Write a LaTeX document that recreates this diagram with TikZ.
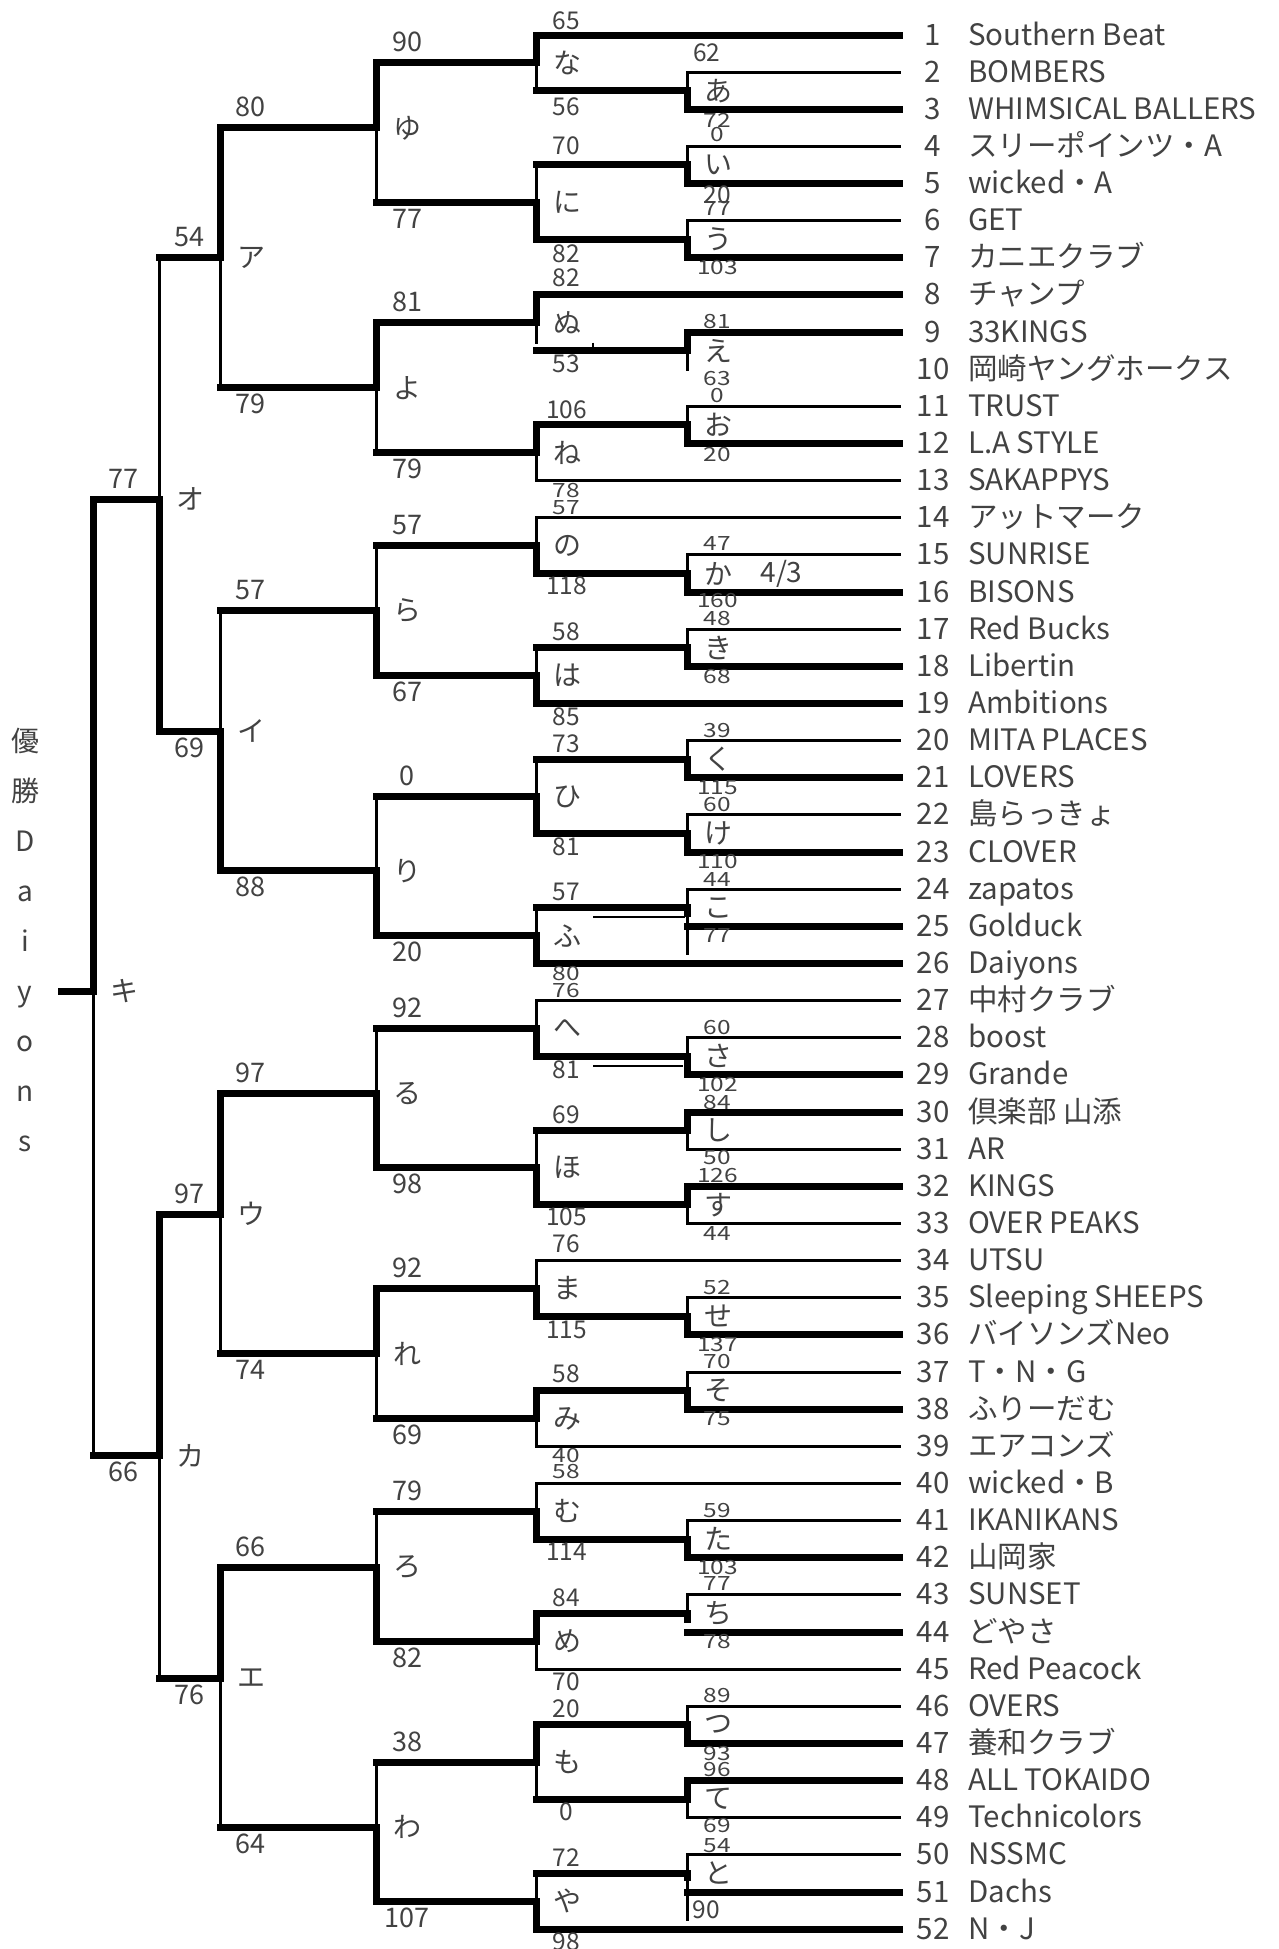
\documentclass[tikz,border=0pt]{standalone}
\usepackage{fontspec}
\setmainfont{Noto Sans CJK JP}
\definecolor{txt}{gray}{0.26}
\newcounter{nd}
\tikzset{
  tk/.style={line width=7pt, line cap=rect},
  tn/.style={line width=3pt, line cap=rect},
  hair/.style={line width=1.7pt},
  sA/.style={font=\fontsize{27}{27}\selectfont, text=txt, inner sep=0pt},
  sB/.style={font=\fontsize{24.5}{25}\selectfont, text=txt, inner sep=0pt},
  lt/.style={font=\fontsize{28}{28}\selectfont, text=txt, inner sep=0pt},
  num/.style={font=\fontsize{29.5}{29.5}\selectfont, text=txt, inner sep=0pt, anchor=base},
  nm/.style={font=\fontsize{29.5}{29.5}\selectfont, text=txt, inner sep=0pt, anchor=base west},
  vt/.style={font=\fontsize{28}{28}\selectfont, text=txt, inner sep=0pt, anchor=base},
}
\def\XA{93}\def\XB{159}\def\XC{220}\def\XD{376.5}\def\XE{536}\def\XF{687}\def\XG{899}
% match: x, top row, top src x, top style, bottom row, bottom src x, bottom style, mid row, winner
\newcommand\mt[9]{%
  \draw[#4] (#1,#2) -- (#3,#2);
  \draw[#7] (#1,#5) -- (#6,#5);
  \if t#9\relax
    \draw[tk] (#1,#2) -- (#1,#8); \draw[tn] (#1,#8) -- (#1,#5);
  \else
    \draw[tn] (#1,#2) -- (#1,#8); \draw[tk] (#1,#8) -- (#1,#5);
  \fi}
\newcommand\lab[5]{\stepcounter{nd}\node[#1,yshift=#4pt] (s\arabic{nd}) at ({#2+30.5},#3) {#5};}
\newcommand\ml[3]{\stepcounter{nd}\node[lt] (m\arabic{nd}) at ({#1+31},#2) {#3};}
\newcommand\q[1]{\scalebox{1}[0.8]{#1}}
\begin{document}
\begin{tikzpicture}[x=1pt, y=-37.14pt]
\useasboundingbox (0,0.0576) rectangle (1279,52.5347);
% ---- round 1 (c6)
\mt{\XF}{2}{\XG}{tn}{3}{\XG}{tk}{2.5}{b}
\mt{\XF}{4}{\XG}{tn}{5}{\XG}{tk}{4.5}{b}
\mt{\XF}{6}{\XG}{tn}{7}{\XG}{tk}{6.5}{b}
\mt{\XF}{11}{\XG}{tn}{12}{\XG}{tk}{11.5}{b}
\mt{\XF}{15}{\XG}{tn}{16}{\XG}{tk}{15.5}{b}
\mt{\XF}{17}{\XG}{tn}{18}{\XG}{tk}{17.5}{b}
\mt{\XF}{20}{\XG}{tn}{21}{\XG}{tk}{20.5}{b}
\mt{\XF}{22}{\XG}{tn}{23}{\XG}{tk}{22.5}{b}
\mt{\XF}{28}{\XG}{tn}{29}{\XG}{tk}{28.5}{b}
\mt{\XF}{30}{\XG}{tk}{31}{\XG}{tn}{30.5}{t}
\mt{\XF}{32}{\XG}{tk}{33}{\XG}{tn}{32.5}{t}
\mt{\XF}{35}{\XG}{tn}{36}{\XG}{tk}{35.5}{b}
\mt{\XF}{37}{\XG}{tn}{38}{\XG}{tk}{37.5}{b}
\mt{\XF}{41}{\XG}{tn}{42}{\XG}{tk}{41.5}{b}
\mt{\XF}{46}{\XG}{tn}{47}{\XG}{tk}{46.5}{b}
\mt{\XF}{48}{\XG}{tk}{49}{\XG}{tn}{48.5}{t}
% e (9,10): no line for team 10
\draw[tk] (\XF,9) -- (\XG,9);
\draw[tk] (\XF,9) -- (\XF,9.5);
\draw[tn] (\XF,9.5) -- (\XF,10);
% ko (24,25)
\draw[tn] (\XF,24) -- (\XG,24);
\draw[tk] (\XF,25) -- (\XG,25);
\draw[tn] (\XF,24) -- (\XF,25.72);
\draw[tk] (\XF,24.5) -- (\XF,24.66);
% chi (43,44)
\draw[tn] (\XF,43) -- (\XG,43);
\draw[tk] (\XF,44) -- (\XG,44);
\draw[tn] (\XF,43) -- (\XF,43.5);
\draw[tk] (\XF,43.5) -- (\XF,43.65);
% to (50,51)
\draw[tn] (\XF,50) -- (\XG,50);
\draw[tk] (\XF,51) -- (\XG,51);
\draw[tn] (\XF,50) -- (\XF,51.75);
\draw[tk] (\XF,50.5) -- (\XF,50.6);
% ---- round 2 (c5)
\mt{\XE}{1}{\XG}{tk}{2.5}{\XF}{tk}{1.75}{t}
\mt{\XE}{4.5}{\XF}{tk}{6.5}{\XF}{tk}{5.5}{b}
\draw[tk] (\XE,8) -- (\XG,8);
\draw[tk] (\XE,9.5) -- (\XF,9.5);
\draw[tk] (\XE,8) -- (\XE,8.75);
\draw[tn] (\XE,8.75) -- (\XE,9.266);
\mt{\XE}{11.5}{\XF}{tk}{13}{\XG}{tn}{12.25}{t}
\mt{\XE}{14}{\XG}{tn}{15.5}{\XF}{tk}{14.75}{b}
\mt{\XE}{17.5}{\XF}{tk}{19}{\XG}{tk}{18.25}{b}
\mt{\XE}{20.5}{\XF}{tk}{22.5}{\XF}{tk}{21.5}{b}
\mt{\XE}{24.5}{\XF}{tk}{26}{\XG}{tk}{25.25}{b}
\mt{\XE}{27}{\XG}{tn}{28.5}{\XF}{tk}{27.75}{b}
\mt{\XE}{30.5}{\XF}{tk}{32.5}{\XF}{tk}{31.5}{b}
\mt{\XE}{34}{\XG}{tn}{35.5}{\XF}{tk}{34.75}{b}
\mt{\XE}{37.5}{\XF}{tk}{39}{\XG}{tn}{38.25}{t}
\mt{\XE}{40}{\XG}{tn}{41.5}{\XF}{tk}{40.75}{b}
\mt{\XE}{43.5}{\XF}{tk}{45}{\XG}{tn}{44.25}{t}
\mt{\XE}{46.5}{\XF}{tk}{48.5}{\XF}{tk}{47.5}{t}
\mt{\XE}{50.5}{\XF}{tk}{52}{\XG}{tk}{51.25}{b}
% ---- round 3 (c4)
\mt{\XD}{1.75}{\XE}{tk}{5.5}{\XE}{tk}{3.5}{t}
\mt{\XD}{8.75}{\XE}{tk}{12.25}{\XE}{tk}{10.5}{t}
\mt{\XD}{14.75}{\XE}{tk}{18.25}{\XE}{tk}{16.5}{b}
\mt{\XD}{21.5}{\XE}{tk}{25.25}{\XE}{tk}{23.5}{b}
\mt{\XD}{27.75}{\XE}{tk}{31.5}{\XE}{tk}{29.5}{b}
\mt{\XD}{34.75}{\XE}{tk}{38.25}{\XE}{tk}{36.5}{t}
\mt{\XD}{40.75}{\XE}{tk}{44.25}{\XE}{tk}{42.25}{b}
\mt{\XD}{47.5}{\XE}{tk}{51.25}{\XE}{tk}{49.25}{b}
% ---- round 4 (c3)
\mt{\XC}{3.5}{\XD}{tk}{10.5}{\XD}{tk}{7}{t}
\mt{\XC}{16.5}{\XD}{tk}{23.5}{\XD}{tk}{19.75}{b}
\mt{\XC}{29.5}{\XD}{tk}{36.5}{\XD}{tk}{32.75}{t}
\mt{\XC}{42.25}{\XD}{tk}{49.25}{\XD}{tk}{45.25}{t}
% ---- semis (c2), final (c1)
\mt{\XB}{7}{\XC}{tk}{19.75}{\XC}{tk}{13.5}{b}
\mt{\XB}{32.75}{\XC}{tk}{45.25}{\XC}{tk}{39.25}{t}
\mt{\XA}{13.5}{\XB}{tk}{39.25}{\XB}{tk}{26.75}{t}
\coordinate (root) at (61.5,26.75);
\coordinate (final) at (\XA,26.75);
\draw[tk] (root) -- (final);
% ---- stray marks
\begin{scope}[y=-1pt, yshift=-2.14pt]
  \draw[hair] (593,342.7) -- (593,348);
  \draw[hair] (593,916.7) -- (685,916.7);
  \draw[hair] (593,1066) -- (683,1066);
  \node[lt] (q43) at (781.5,574) {4/3};
  \foreach \c [count=\k from 0] in {優,勝,D,a,i,y,o,n,s}
    \node[vt] (v\k) at (25,{751.7+50*\k}) {\c};
\end{scope}
% ---- match letters
\ml{\XF}{2.5}{あ}\ml{\XF}{4.5}{い}\ml{\XF}{6.5}{う}\ml{\XF}{9.5}{え}\ml{\XF}{11.5}{お}
\ml{\XF}{15.5}{か}\ml{\XF}{17.5}{き}\ml{\XF}{20.5}{く}\ml{\XF}{22.5}{け}\ml{\XF}{24.5}{こ}
\ml{\XF}{28.5}{さ}\ml{\XF}{30.5}{し}\ml{\XF}{32.5}{す}\ml{\XF}{35.5}{せ}\ml{\XF}{37.5}{そ}
\ml{\XF}{41.5}{た}\ml{\XF}{43.5}{ち}\ml{\XF}{46.5}{つ}\ml{\XF}{48.5}{て}\ml{\XF}{50.5}{と}
\ml{\XE}{1.75}{な}\ml{\XE}{5.5}{に}\ml{\XE}{8.75}{ぬ}\ml{\XE}{12.25}{ね}\ml{\XE}{14.75}{の}
\ml{\XE}{18.25}{は}\ml{\XE}{21.5}{ひ}\ml{\XE}{25.25}{ふ}\ml{\XE}{27.75}{へ}\ml{\XE}{31.5}{ほ}
\ml{\XE}{34.75}{ま}\ml{\XE}{38.25}{み}\ml{\XE}{40.75}{む}\ml{\XE}{44.25}{め}\ml{\XE}{47.5}{も}
\ml{\XE}{51.25}{や}
\ml{\XD}{3.5}{ゆ}\ml{\XD}{10.5}{よ}\ml{\XD}{16.5}{ら}\ml{\XD}{23.5}{り}
\ml{\XD}{29.5}{る}\ml{\XD}{36.5}{れ}\ml{\XD}{42.25}{ろ}\ml{\XD}{49.25}{わ}
\ml{\XC}{7}{ア}\ml{\XC}{19.75}{イ}\ml{\XC}{32.75}{ウ}\ml{\XC}{45.25}{エ}
\ml{\XB}{13.5}{オ}\ml{\XB}{39.25}{カ}
\ml{\XA}{26.75}{キ}
% ---- scores c1-c4
\lab{sA}{\XD}{1.75}{20.5}{90}\lab{sA}{\XD}{5.5}{-16.5}{77}
\lab{sA}{\XD}{8.75}{20.5}{81}\lab{sA}{\XD}{12.25}{-16.5}{79}
\lab{sA}{\XD}{14.75}{20.5}{57}\lab{sA}{\XD}{18.25}{-16.5}{67}
\lab{sA}{\XD}{21.5}{20.5}{0}\lab{sA}{\XD}{25.25}{-16.5}{20}
\lab{sA}{\XD}{27.75}{20.5}{92}\lab{sA}{\XD}{31.5}{-16.5}{98}
\lab{sA}{\XD}{34.75}{20.5}{92}\lab{sA}{\XD}{38.25}{-16.5}{69}
\lab{sA}{\XD}{40.75}{20.5}{79}\lab{sA}{\XD}{44.25}{-16.5}{82}
\lab{sA}{\XD}{47.5}{20.5}{38}\lab{sA}{\XD}{51.25}{-16.5}{107}
\lab{sA}{\XC}{3.5}{20.5}{80}\lab{sA}{\XC}{10.5}{-16.5}{79}
\lab{sA}{\XC}{16.5}{20.5}{57}\lab{sA}{\XC}{23.5}{-16.5}{88}
\lab{sA}{\XC}{29.5}{20.5}{97}\lab{sA}{\XC}{36.5}{-16.5}{74}
\lab{sA}{\XC}{42.25}{20.5}{66}\lab{sA}{\XC}{49.25}{-16.5}{64}
\lab{sA}{\XB}{7}{20.5}{54}\lab{sA}{\XB}{19.75}{-16.5}{69}
\lab{sA}{\XB}{32.75}{20.5}{97}\lab{sA}{\XB}{45.25}{-16.5}{76}
\lab{sA}{\XA}{13.5}{20.5}{77}\lab{sA}{\XA}{39.25}{-16.5}{66}
% ---- scores c5
\lab{sB}{\XE}{1}{14}{65}\lab{sB}{\XE}{2.5}{-16.5}{56}
\lab{sB}{\XE}{4.5}{19}{70}\lab{sB}{\XE}{6.5}{-14}{82}
\lab{sB}{\XE}{8}{17}{82}\lab{sB}{\XE}{9.5}{-13}{53}
\lab{sB}{\XE}{11.5}{15.5}{106}\lab{sB}{\XE}{13}{-9.5}{\q{78}}
\lab{sB}{\XE}{14}{10}{\q{57}}\lab{sB}{\XE}{15.5}{-12.5}{118}
\lab{sB}{\XE}{17.5}{15.8}{58}\lab{sB}{\XE}{19}{-13}{85}
\lab{sB}{\XE}{20.5}{15}{73}\lab{sB}{\XE}{22.5}{-13}{81}
\lab{sB}{\XE}{24.5}{16}{57}\lab{sB}{\XE}{26}{-10}{\q{80}}
\lab{sB}{\XE}{27}{10}{\q{76}}\lab{sB}{\XE}{28.5}{-13}{81}
\lab{sB}{\XE}{30.5}{15.6}{69}\lab{sB}{\XE}{32.5}{-12}{105}
\lab{sB}{\XE}{34}{16.6}{76}\lab{sB}{\XE}{35.5}{-14}{115}
\lab{sB}{\XE}{37.5}{16.6}{58}\lab{sB}{\XE}{39}{-9}{\q{40}}
\lab{sB}{\XE}{40}{12}{\q{58}}\lab{sB}{\XE}{41.5}{-12.5}{114}
\lab{sB}{\XE}{43.5}{16}{84}\lab{sB}{\XE}{45}{-12.7}{70}
\lab{sB}{\XE}{46.5}{16}{20}\lab{sB}{\XE}{48.5}{-13}{0}
\lab{sB}{\XE}{50.5}{16}{72}\lab{sB}{\XE}{52}{-13}{98}
% ---- scores c6
\lab{sB}{676.2}{2}{19.6}{62}\lab{sB}{\XF}{3}{-11}{\q{72}}
\lab{sB}{\XF}{4}{11.5}{\q{0}}\lab{sB}{\XF}{5}{-11.5}{20}
\lab{sB}{\XF}{6}{11.7}{\q{77}}\lab{sB}{\XF}{7}{-10}{\q{103}}
\lab{sB}{\XF}{9}{10.5}{\q{81}}\lab{sB}{\XF}{10}{-9}{\q{63}}
\lab{sB}{\XF}{11}{11}{\q{0}}\lab{sB}{\XF}{12}{-10.5}{\q{20}}
\lab{sB}{\XF}{15}{11}{\q{47}}\lab{sB}{\XF}{16}{-8.5}{\q{160}}
\lab{sB}{\XF}{17}{10.3}{\q{48}}\lab{sB}{\XF}{18}{-10}{\q{68}}
\lab{sB}{\XF}{20}{10.5}{\q{39}}\lab{sB}{\XF}{21}{-9.5}{\q{115}}
\lab{sB}{\XF}{22}{10}{\q{60}}\lab{sB}{\XF}{23}{-9.7}{\q{110}}
\lab{sB}{\XF}{24}{10}{\q{44}}\lab{sB}{\XF}{25}{-9}{\q{77}}
\lab{sB}{\XF}{28}{10}{\q{60}}\lab{sB}{\XF}{29}{-10}{\q{102}}
\lab{sB}{\XF}{30}{10}{\q{84}}\lab{sB}{\XF}{31}{-8.5}{\q{50}}
\lab{sB}{\XF}{32}{11}{\q{126}}\lab{sB}{\XF}{33}{-10.5}{\q{44}}
\lab{sB}{\XF}{35}{10.5}{\q{52}}\lab{sB}{\XF}{36}{-9.5}{\q{137}}
\lab{sB}{\XF}{37}{10.5}{\q{70}}\lab{sB}{\XF}{38}{-9}{\q{75}}
\lab{sB}{\XF}{41}{10.5}{\q{59}}\lab{sB}{\XF}{42}{-9.5}{\q{103}}
\lab{sB}{\XF}{43}{11}{\q{77}}\lab{sB}{\XF}{44}{-9.7}{\q{78}}
\lab{sB}{\XF}{46}{10.5}{\q{89}}\lab{sB}{\XF}{47}{-9.9}{\q{93}}
\lab{sB}{\XF}{48}{10.6}{\q{96}}\lab{sB}{\XF}{49}{-8}{\q{69}}
\lab{sB}{\XF}{50}{9.5}{\q{54}}\lab{sB}{676}{51}{-18}{90}
% ---- teams
\foreach \i/\t in {1/Southern Beat,2/BOMBERS,3/WHIMSICAL BALLERS,4/スリーポインツ・A,
  5/wicked・A,6/GET,7/カニエクラブ,8/チャンプ,9/33KINGS,10/岡崎ヤングホークス,
  11/TRUST,12/L.A STYLE,13/SAKAPPYS,14/アットマーク,15/SUNRISE,16/BISONS,
  17/Red Bucks,18/Libertin,19/Ambitions,20/MITA PLACES,21/LOVERS,22/島らっきょ,
  23/CLOVER,24/zapatos,25/Golduck,26/Daiyons,27/中村クラブ,28/boost,29/Grande,
  30/倶楽部 山添,31/AR,32/KINGS,33/OVER PEAKS,34/UTSU,35/Sleeping SHEEPS,
  36/バイソンズNeo,37/T・N・G,38/ふりーだむ,39/エアコンズ,40/wicked・B,
  41/IKANIKANS,42/山岡家,43/SUNSET,44/どやさ,45/Red Peacock,46/OVERS,
  47/養和クラブ,48/ALL TOKAIDO,49/Technicolors,50/NSSMC,51/Dachs,52/N・J}
{
  \node[num, yshift=-10pt] (n\i) at (933,\i) {\i};
  \node[nm, yshift=-10pt] (t\i) at (968,\i) {\t};
}
\end{tikzpicture}
\end{document}
